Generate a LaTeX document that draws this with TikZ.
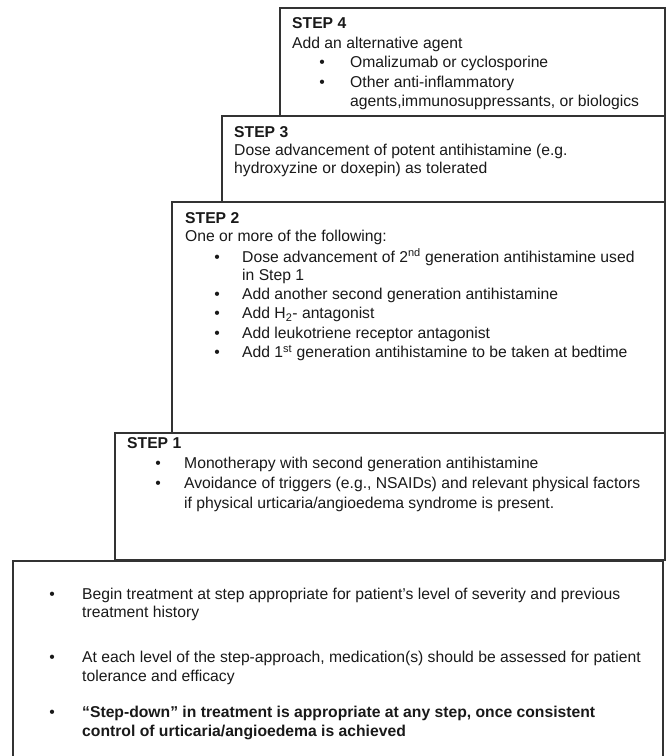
\documentclass[tikz,border=0pt]{standalone}
\usepackage{fontspec}
\setmainfont{Liberation Sans}
\newcommand{\fs}{\fontsize{15.7}{19}\selectfont}
\begin{document}
\begin{tikzpicture}[x=1pt,y=-1pt,
  boxline/.style={draw=black!80, line width=1.2pt},
  txt/.style={anchor=base west, inner sep=0pt, font=\fs, text=black!90},
  hd/.style={txt, font=\fs\bfseries},
  bul/.style={anchor=base, inner sep=0pt, font=\fs, text=black!90}]
\useasboundingbox (0,0) rectangle (667,756);
% boxes
\draw[boxline] (280,8) rectangle (665,116);
\draw[boxline] (222,116) rectangle (665,202);
\draw[boxline] (172,202) rectangle (665,433);
\draw[boxline] (115,433) rectangle (665,560);
\draw[boxline] (13,757) -- (13,561) -- (663,561) -- (663,757);
% step 4
\node[hd] (s4h) at (292,28) {STEP 4};
\node[txt] (s4a) at (292,48) {Add an alternative agent};
\node[bul] (s4b1) at (322,67) {\textbullet};
\node[txt] (s4t1) at (350,67) {Omalizumab or cyclosporine};
\node[bul] (s4b2) at (322,87) {\textbullet};
\node[txt] (s4t2) at (350,87) {Other anti-inflammatory};
\node[txt] (s4t3) at (350,106) {agents,immunosuppressants, or biologics};
% step 3
\node[hd] (s3h) at (234,137) {STEP 3};
\node[txt] (s3a) at (234,155) {Dose advancement of potent antihistamine (e.g.};
\node[txt] (s3b) at (234,173) {hydroxyzine or doxepin) as tolerated};
% step 2
\node[hd] (s2h) at (185,223) {STEP 2};
\node[txt] (s2a) at (185,241.5) {One or more of the following:};
\node[bul] (s2b1) at (217,262) {\textbullet};
\node[txt] (s2t1) at (242,262) {Dose advancement of 2\textsuperscript{nd} generation antihistamine used};
\node[txt] (s2t1b) at (242,280.5) {in Step 1};
\node[bul] (s2b2) at (217,299.5) {\textbullet};
\node[txt] (s2t2) at (242,299.5) {Add another second generation antihistamine};
\node[bul] (s2b3) at (217,318.5) {\textbullet};
\node[txt] (s2t3) at (242,318.5) {Add H\textsubscript{2}- antagonist};
\node[bul] (s2b4) at (217,338) {\textbullet};
\node[txt] (s2t4) at (242,338) {Add leukotriene receptor antagonist};
\node[bul] (s2b5) at (217,357.5) {\textbullet};
\node[txt] (s2t5) at (242,357.5) {Add 1\textsuperscript{st} generation antihistamine to be taken at bedtime};
% step 1
\node[hd] (s1h) at (127,448) {STEP 1};
\node[bul] (s1b1) at (158,468) {\textbullet};
\node[txt] (s1t1) at (184,468) {Monotherapy with second generation antihistamine};
\node[bul] (s1b2) at (158,488) {\textbullet};
\node[txt] (s1t2) at (184,488) {Avoidance of triggers (e.g., NSAIDs) and relevant physical factors};
\node[txt] (s1t2b) at (184,508) {if physical urticaria/angioedema syndrome is present.};
% bottom
\node[bul] (n1b) at (52,599) {\textbullet};
\node[txt] (n1a) at (82,599) {Begin treatment at step appropriate for patient’s level of severity and previous};
\node[txt] (n1c) at (82,617) {treatment history};
\node[bul] (n2b) at (52,662) {\textbullet};
\node[txt] (n2a) at (82,662) {At each level of the step-approach, medication(s) should be assessed for patient};
\node[txt] (n2c) at (82,681) {tolerance and efficacy};
\node[bul] (n3b) at (52,717) {\textbullet};
\node[hd] (n3a) at (82,717) {“Step-down” in treatment is appropriate at any step, once consistent};
\node[hd] (n3c) at (82,736) {control of urticaria/angioedema is achieved};
\end{tikzpicture}
\end{document}
